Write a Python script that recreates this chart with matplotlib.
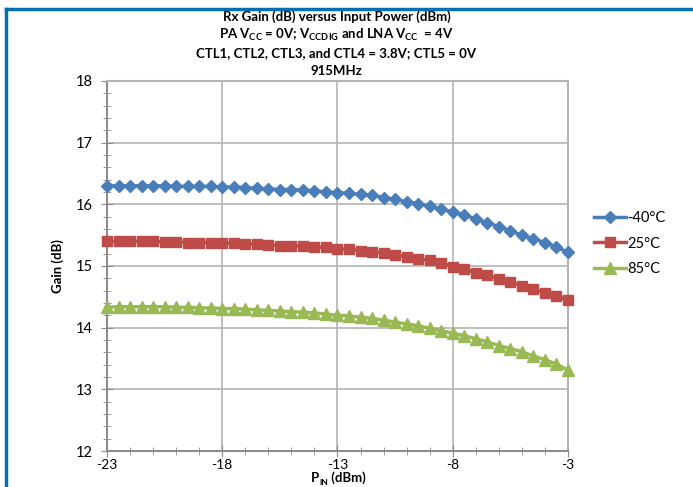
import matplotlib.pyplot as plt
import numpy as np
from matplotlib.lines import Line2D
from matplotlib.ticker import MultipleLocator

plt.rcParams["font.family"] = ["Lato", "DejaVu Sans"]
plt.rcParams["axes.unicode_minus"] = False

# input power sweep, -23 dBm to -3 dBm in 0.5 dB steps
pin_dbm = np.arange(-23.0, -2.9, 0.5)

gain_m40 = [
    16.30, 16.30, 16.30, 16.30, 16.30, 16.30, 16.29, 16.29, 16.29, 16.29,
    16.28, 16.28, 16.27, 16.26, 16.25, 16.24, 16.24, 16.23, 16.22, 16.20,
    16.19, 16.18, 16.16, 16.15, 16.11, 16.08, 16.04, 16.01, 15.97, 15.92,
    15.88, 15.83, 15.76, 15.70, 15.64, 15.57, 15.50, 15.44, 15.38, 15.31,
    15.22,
]
gain_25 = [
    15.40, 15.40, 15.40, 15.40, 15.40, 15.39, 15.39, 15.38, 15.38, 15.38,
    15.37, 15.37, 15.36, 15.35, 15.34, 15.33, 15.33, 15.32, 15.31, 15.30,
    15.28, 15.27, 15.25, 15.23, 15.21, 15.18, 15.15, 15.12, 15.09, 15.05,
    14.99, 14.95, 14.89, 14.85, 14.79, 14.74, 14.68, 14.62, 14.57, 14.51,
    14.45,
]
gain_85 = [
    14.33, 14.34, 14.34, 14.34, 14.34, 14.34, 14.33, 14.33, 14.32, 14.32,
    14.31, 14.31, 14.30, 14.29, 14.28, 14.27, 14.26, 14.25, 14.24, 14.22,
    14.20, 14.19, 14.17, 14.15, 14.12, 14.09, 14.06, 14.03, 13.99, 13.95,
    13.91, 13.87, 13.82, 13.77, 13.71, 13.66, 13.61, 13.54, 13.48, 13.41,
    13.31,
]

series_labels = ["-40°C", "25°C", "85°C"]
series_colors = ["#4A7EBB", "#BE4B48", "#98B954"]
series_markers = ["D", "s", "^"]
series_sizes = [6.5, 7.5, 8]

fig = plt.figure(figsize=(6.93, 4.87), dpi=100)
ax = fig.add_axes([0.1544, 0.0739, 0.6652, 0.7598])

for vals, lab, col, mk, ms in zip(
    [gain_m40, gain_25, gain_85], series_labels, series_colors,
    series_markers, series_sizes,
):
    ax.plot(pin_dbm, vals, color=col, marker=mk, markersize=ms,
            linewidth=2.5, label=lab, clip_on=False, zorder=3)

ax.set_xlim(-23, -3)
ax.set_ylim(12, 18)
ax.xaxis.set_major_locator(MultipleLocator(5))
ax.xaxis.set_minor_locator(MultipleLocator(1))
ax.yaxis.set_major_locator(MultipleLocator(1))
ax.yaxis.set_minor_locator(MultipleLocator(0.2))
ax.grid(True, which="major", color="#B4B4B4", linewidth=1.2)
for side in ax.spines.values():
    side.set_color("#B4B4B4")
    side.set_linewidth(1.5)
ax.spines["left"].set_color("#8C8C8C")
ax.spines["bottom"].set_color("#8C8C8C")
ax.tick_params(which="both", direction="inout", color="#8C8C8C",
               labelsize=10.5)
ax.tick_params(which="major", length=8)
ax.tick_params(which="minor", length=6)
ax.tick_params(axis="x", pad=2, labelsize=10)
ax.tick_params(axis="y", pad=6)
ax.set_xticks([-23, -18, -13, -8, -3])

# x label built from pieces so the subscript stays compact
lab_p = fig.text(311 / 693, 4.5 / 487, "P", ha="left", va="baseline",
                 fontsize=9.5, fontweight="bold")
lab_sub = ax.annotate("IN", xy=(1, 0), xycoords=lab_p, xytext=(0.3, -1.0),
                      textcoords="offset points", ha="left", va="bottom",
                      fontsize=6, fontweight="bold", annotation_clip=False)
ax.annotate(" (dBm)", xy=(1, 0), xycoords=lab_sub, xytext=(0, 1.0),
            textcoords="offset points", ha="left", va="bottom",
            fontsize=9.5, fontweight="bold", annotation_clip=False)

ax.set_ylabel("Gain (dB)", fontsize=9.5, fontweight="bold")
ax.yaxis.set_label_coords(-0.093, 0.5)

title_lines = [
    "Rx Gain (dB) versus Input Power (dBm)",
    "PA V$_{\\mathregular{CC}}$ = 0V; V$_{\\mathregular{CCDIG}}$ and LNA "
    "V$_{\\mathregular{CC}}$  = 4V",
    "CTL1, CTL2, CTL3, and CTL4 = 3.8V; CTL5 = 0V",
    "915MHz",
]
for i, line in enumerate(title_lines):
    fig.text(0.4855, 1 - (17 + 18 * i) / 487, line, ha="center",
             va="center", fontsize=9.5, fontweight="bold")

handles = [
    Line2D([], [], color=c, marker=m, markersize=s, linewidth=2.5)
    for c, m, s in zip(series_colors, series_markers, series_sizes)
]
fig.legend(handles, series_labels, loc="upper left",
           bbox_to_anchor=(0.838, 0.594), frameon=False, fontsize=10.5,
           handlelength=2.2, handletextpad=0.1, labelspacing=0.8)

# blue frame along the left and top edges
fig.add_artist(Line2D([0.008, 0.008], [0, 0.982], color="#0070B0",
                      linewidth=2.5, transform=fig.transFigure))
fig.add_artist(Line2D([0.008, 1.0], [0.982, 0.982], color="#0070B0",
                      linewidth=2.5, transform=fig.transFigure))

fig.savefig("out.png", dpi=100)
